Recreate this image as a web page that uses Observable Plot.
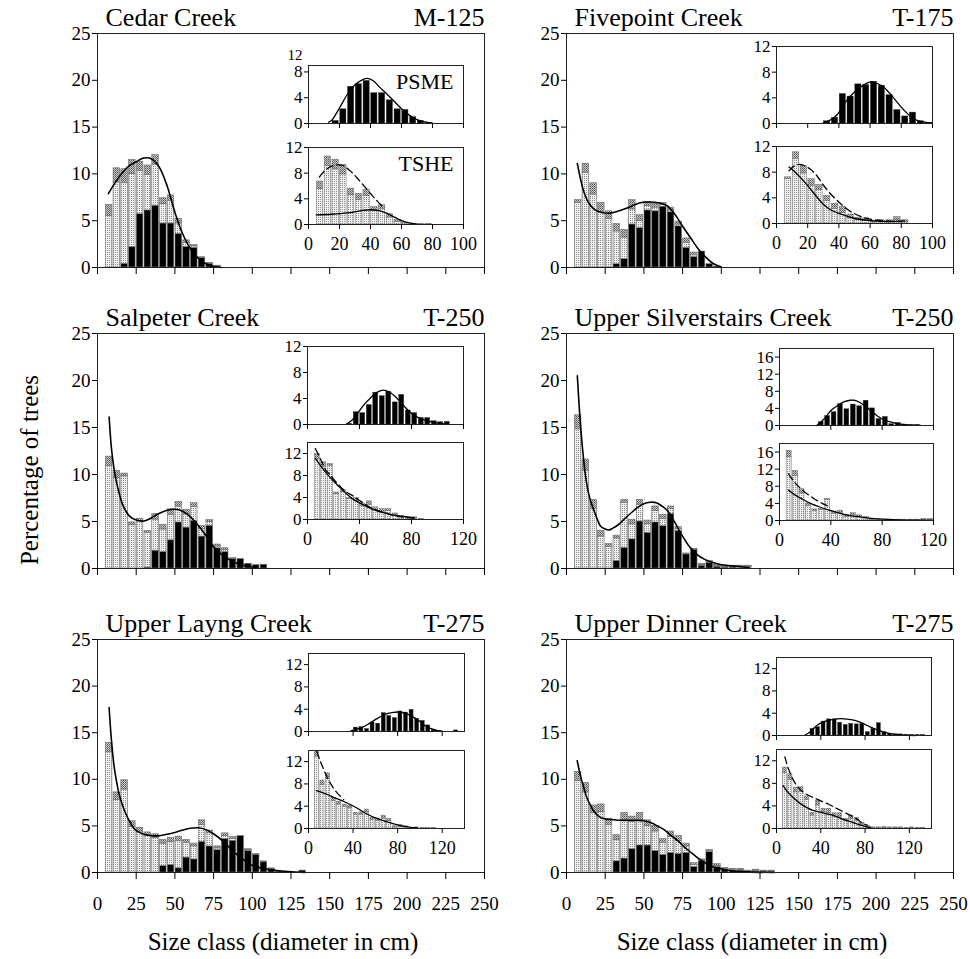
<!DOCTYPE html>
<html>
<head>
<meta charset="utf-8">
<script src="https://cdn.jsdelivr.net/npm/d3@7"></script>
<script src="https://cdn.jsdelivr.net/npm/@observablehq/plot@0.6"></script>
<style>
  html, body { margin: 0; padding: 0; background: #fff; }
  #chart { position: relative; width: 970px; height: 959px; overflow: hidden; background: #fff;
           font-family: "Liberation Serif", "Times New Roman", serif; color: #000; }
  #chart svg text { font-family: "Liberation Serif", "Times New Roman", serif !important; }
  .txt { position: absolute; white-space: nowrap; font-size: 25px; line-height: 1; }
</style>
</head>
<body>
<div id="chart">
  <svg width="0" height="0" style="position:absolute">
    <defs>
      <pattern id="lt" patternUnits="userSpaceOnUse" width="2" height="2">
        <rect width="2" height="2" fill="#f1f1f1"/>
        <rect x="0" y="0" width="1" height="1" fill="#8e8e8e"/>
      </pattern>
      <pattern id="dk" patternUnits="userSpaceOnUse" width="2" height="2">
        <rect width="2" height="2" fill="#cccccc"/>
        <rect x="0" y="0" width="1" height="1" fill="#505050"/>
        <rect x="1" y="1" width="1" height="1" fill="#777777"/>
      </pattern>
    </defs>
  </svg>
  <div class="txt" style="left:29px;top:470px;transform:translate(-50%,-50%) rotate(-90deg)">Percentage of trees</div>
  <div class="txt" style="left:283px;top:929px;transform:translateX(-50%)">Size class (diameter in cm)</div>
  <div class="txt" style="left:752px;top:929px;transform:translateX(-50%)">Size class (diameter in cm)</div>
</div>
<script>
// ---------------- DATA ----------------
// Stacked bars per 5-cm class: PSME (black), light-stippled body, dark-stippled cap.
const classWidth = 5;
const mainXTicks = [0, 25, 50, 75, 100, 125, 150, 175, 200, 225, 250];
const mainYTicks = [0, 5, 10, 15, 20, 25];

// Cedar Creek  M-125
const cedarClasses = [5,10,15,20,25,30,35,40,45,50,55,60,65,70,75];
const cedarPSME  = [0,0,0.4,2.2,5.7,6.1,6.6,4.7,4.7,3.6,2.2,2.1,1.0,0.4,0.1];
const cedarLight = [5.5,9.1,8.6,7.8,4.6,3.8,4.4,2.1,2.4,1.1,0.4,0.2,0,0,0];
const cedarDark  = [1.2,1.5,1.5,1.5,1.0,1.0,1.0,0.6,0.6,0.5,0.3,0.1,0.1,0.1,0.1];
const cedarCurve = [[7,7.9],[10,8.7],[15,9.9],[20,10.8],[25,11.3],[30,11.7],[35,11.6],[40,10.7],[45,8.7],[50,5.9],[55,3.6],[60,2.0],[65,1.0],[70,0.4],[75,0.1],[80,0]];
const cedarPsmeCurve = [[13,0.2],[15,0.5],[20,2.4],[25,4.5],[30,6.0],[35,6.8],[38,7.0],[42,6.6],[46,5.6],[50,4.7],[55,3.5],[60,2.3],[65,1.3],[70,0.6],[75,0.25],[80,0.05]];
const cedarTsheSolid = [[5,1.5],[15,1.6],[25,1.8],[35,2.2],[40,2.3],[45,2.2],[50,1.8],[55,1.2],[60,0.6],[65,0.25],[70,0.05]];
const cedarTsheDashed = [[7,7.4],[11,8.5],[16,9.2],[22,9.2],[28,8.1],[33,6.8],[38,5.4],[43,4.0],[48,2.7]];

// Fivepoint Creek  T-175
const fiveClasses = [5,10,15,20,25,30,35,40,45,50,55,60,65,70,75,80,85,90,95];
const fivePSME  = [0,0,0,0,0,0.35,0.9,4.6,4.2,6.1,6.0,6.5,5.9,4.4,2.1,1.1,1.7,0.35,0.1];
const fiveLight = [6.9,10.1,7.8,5.9,5.2,3.5,2.3,1.6,0.8,0.5,0.4,0.2,0.2,0.2,0.5,0.2,0,0,0];
const fiveDark  = [0.3,1.0,1.2,1.0,0.8,0.8,0.8,1.0,0.6,0.4,0.4,0.2,0.3,0.3,0.5,0.3,0,0,0];
const fiveCurve = [[7,11.1],[9,9.5],[11,8.2],[14,7.0],[18,6.2],[22,5.9],[27,5.8],[33,6.0],[40,6.4],[47,6.9],[53,7.0],[60,6.9],[65,6.6],[70,5.7],[75,4.4],[80,3.2],[85,2.0],[90,1.1],[95,0.4],[100,0.05]];
const fivePsmeCurve = [[30,0.1],[35,0.6],[39,1.4],[45,3.6],[50,4.9],[54,5.7],[58,6.3],[61,6.5],[65,6.2],[69,5.6],[75,4.0],[82,2.0],[86,1.1],[90,0.5],[95,0.2],[100,0.05]];
const fiveTsheSolid = [[8,8.8],[12,8.0],[16,7.0],[20,5.9],[25,4.4],[30,3.0],[35,2.1],[41,1.5],[47,1.0],[52,0.7],[62,0.4],[72,0.3],[82,0.4]];
const fiveTsheDashed = [[8,8.2],[11,8.9],[14,9.2],[18,9.0],[22,8.4],[26,7.4],[30,6.0],[34,4.8],[38,3.8],[42,2.9],[48,1.8],[55,1.0],[62,0.6],[70,0.4],[80,0.3]];

// Salpeter Creek  T-250
const salClasses = [5,10,15,20,25,30,35,40,45,50,55,60,65,70,75,80,85,90,95,100,105];
const salPSME  = [0,0,0,0,0,0.1,1.9,1.75,3.0,4.9,4.35,5.05,3.4,4.55,2.15,1.75,1.0,1.0,0.5,0.35,0.4];
const salLight = [10.9,9.6,9.8,4.6,5.0,3.7,3.3,2.4,2.7,1.7,1.4,1.5,0.8,0.4,0.2,0.2,0,0,0,0,0];
const salDark  = [1.0,0.8,0.3,0.3,0.3,0.2,0.6,0.5,0.6,0.5,0.5,0.4,0.3,0.2,0.2,0.2,0.1,0,0,0,0];
const salCurve = [[7.5,16.1],[9,12.8],[10.5,10.8],[12,9.4],[14,8.0],[16,6.9],[18,6.2],[20.5,5.6],[25,5.15],[30,5.05],[35,5.4],[39,5.8],[45,6.2],[50,6.3],[55,6.1],[60,5.5],[65,4.6],[70,3.5],[75,2.3],[80,1.5],[85,0.95],[90,0.55],[95,0.3],[103,0.1]];
const salPsmeCurve = [[30,0.05],[35,0.8],[41,2.4],[45,3.4],[48,4.0],[53,4.9],[58,5.3],[63,5.0],[69,4.0],[74,2.9],[79,1.9],[85,1.1],[90,0.7],[95,0.4],[100,0.2],[105,0.1]];
const salTsheSolid = [[6,11.1],[10,9.8],[15,8.3],[20,7.0],[25,5.8],[30,4.7],[35,3.7],[41,2.9],[46,2.3],[51,1.8],[56,1.4],[61,1.1],[66,0.8],[72,0.6],[82,0.3]];
const salTsheDashed = [[6,12.9],[10,11.0],[14,9.0],[17.5,8.1],[22,6.8],[26,5.8],[30,5.0],[35,4.3],[41,3.3],[46,2.5],[51,1.9],[56,1.5],[61,1.1],[66,0.8],[72,0.5],[82,0.25]];

// Upper Silverstairs Creek  T-250
const silClasses = [5,10,15,20,25,30,35,40,45,50,55,60,65,70,75,80,85,90,95,100,105,110,115];
const silPSME  = [0,0,0,0,0,0.8,2.2,3.1,5.0,3.8,4.9,4.5,5.8,4.0,1.5,2.0,0.3,0.6,0.2,0.1,0.1,0,0];
const silLight = [14.8,10.4,6.3,3.4,2.3,2.4,4.8,1.6,1.8,0.9,1.2,0.8,0.5,0.2,0,0,0.1,0.1,0.1,0.1,0.1,0.2,0.2];
const silDark  = [1.5,1.2,1.0,0.6,0.3,0.3,0.3,0.5,0.5,0.4,0.5,0.4,0.3,0.2,0.1,0.1,0.1,0.1,0.1,0.1,0.1,0.1,0.1];
const silCurve = [[7,20.5],[8.5,16.5],[10,13.4],[12,10.2],[13.5,8.6],[15.5,7.2],[17.7,6.2],[20,5.2],[22,4.5],[25,4.2],[27.5,4.1],[30,4.3],[33,4.6],[37,5.2],[41,5.8],[46,6.5],[50,6.9],[54,7.05],[58,7.0],[62,6.6],[65,6.2],[70,4.9],[74,3.7],[80,2.2],[85,1.4],[89,1.0],[95,0.6],[100,0.4],[112,0.2],[118,0.1]];
const silPsmeCurve = [[29,0],[33,1.0],[37,2.3],[40,3.5],[45,4.6],[50,5.5],[55,5.9],[58,5.9],[62,5.5],[66,4.7],[71,3.5],[76,2.3],[81,1.4],[87,0.8],[93,0.4],[100,0.15],[110,0.05]];
const silTsheSolid = [[7,7.1],[12,6.0],[19,4.8],[25,3.9],[32,3.1],[40,2.3],[48,1.6],[56,1.1],[64,0.8],[72,0.5],[82,0.3],[92,0.15],[100,0.1],[120,0.02]];
const silTsheDashed = [[7,10.9],[10,9.6],[14,8.2],[19,6.8],[24,5.7],[29,4.7],[34,3.9],[40,3.0]];

// Upper Layng Creek  T-275
const layClasses = [5,10,15,20,25,30,35,40,45,50,55,60,65,70,75,80,85,90,95,100,105,110,115,120,125,130];
const layPSME  = [0,0,0,0,0,0,0,0.7,0.8,0.45,1.6,1.4,3.3,2.8,2.4,3.6,3.4,3.9,2.3,1.9,1.1,0.35,0.1,0,0,0.2];
const layLight = [12.9,7.8,8.9,4.9,4.3,3.9,3.7,2.4,2.5,2.9,1.6,1.4,1.8,1.4,0.2,0.3,0.2,0,0.1,0,0,0,0,0,0,0];
const layDark  = [1.0,0.8,1.0,0.6,0.5,0.4,0.4,0.4,0.4,0.5,0.3,0.3,0.5,0.3,0.2,0.3,0.2,0,0.1,0.1,0.1,0.1,0,0,0,0];
const layCurve = [[7.5,17.7],[9,14.2],[10.8,11.3],[12.5,9.6],[14,8.4],[16,7.3],[18.3,6.3],[21,5.4],[23.7,4.7],[27,4.3],[30,4.1],[35,3.95],[40,3.95],[45,4.1],[50,4.3],[55,4.55],[60,4.75],[65,4.8],[70,4.6],[75.4,4.1],[80,3.5],[84,2.9],[88,2.2],[92.7,1.6],[97,1.05],[101,0.7],[110,0.35],[123,0.1],[134,0]];
const layPsmeCurve = [[38,0.1],[45,0.5],[50,0.9],[55,1.5],[61.5,2.3],[66,2.8],[70.5,3.2],[75,3.4],[80,3.5],[85,3.4],[89,3.1],[95,2.5],[100.6,1.7],[105,1.0],[110,0.5],[115,0.2],[120,0.05]];
const layTsheSolid = [[7,6.8],[12,6.5],[17,6.1],[22.5,5.6],[30,5.0],[37.5,4.3],[45,3.5],[52.5,2.6],[60,1.9],[67.5,1.4],[75,0.9],[82.6,0.5],[90,0.25],[97.6,0.1]];
const layTsheDashed = [[7.5,13.8],[10,12.4],[13,10.9],[16.5,9.3],[20,8.0],[24,6.8],[28,5.9],[31.5,5.2]];

// Upper Dinner Creek  T-275
const dinClasses = [5,10,15,20,25,30,35,40,45,50,55,60,65,70,75,80,85,90,95,100,105,110,115,120,125,130];
const dinPSME  = [0,0,0,0,0,1.2,1.5,2.5,2.9,2.9,2.3,1.9,2.1,2.0,2.1,0.6,1.2,2.2,0.6,0.3,0.2,0.2,0.1,0.1,0.1,0.1];
const dinLight = [9.8,8.6,6.4,6.5,5.1,2.3,4.1,2.9,2.7,2.1,2.1,1.3,1.7,1.4,0.7,0.2,0.1,0.1,0.1,0.1,0.1,0.1,0,0.1,0,0];
const dinDark  = [1.0,1.0,0.8,0.8,0.6,0.5,0.8,0.6,0.8,0.6,0.6,0.4,0.6,0.5,0.3,0.2,0.1,0.1,0.2,0.1,0.1,0.1,0.1,0.1,0.1,0.1];
const dinCurve = [[6.9,12.0],[9,10.4],[11.2,9.1],[13,8.1],[15.5,7.2],[18,6.5],[22,5.9],[25,5.75],[28.4,5.7],[35,5.6],[39,5.6],[45,5.6],[50,5.55],[55,5.3],[58.6,5.0],[63,4.6],[67,4.05],[72,3.4],[76,2.75],[80,2.2],[84.5,1.6],[89,1.1],[93,0.7],[98,0.45],[104,0.25],[117,0.07],[134,0]];
const dinPsmeCurve = [[25,0],[30,0.6],[36.5,1.8],[42,2.4],[48.6,2.8],[55,3.0],[61,3.0],[67,2.85],[73,2.6],[79,2.1],[85,1.5],[91,1.0],[97,0.6],[103,0.35],[109,0.2],[117,0.07],[125,0]];
const dinTsheSolid = [[6,7.6],[10,6.5],[15,5.5],[21,4.5],[27,3.75],[33,3.2],[39.5,2.9],[45,2.6],[51.7,2.3],[58,1.8],[64,1.4],[70,1.0],[76,0.6],[81,0.35],[85,0.2]];
const dinTsheDashed = [[7.6,12.7],[10,11.0],[12,10.0],[16,8.3],[21,7.0],[26,6.2],[33,5.5],[40,4.9],[47,4.3],[53,3.7],[60,3.0],[68,2.2],[74,1.5],[78,0.9],[82,0.6]];

// Inset axes
const inset100XTicks = [0, 20, 40, 60, 80, 100];
const inset120XTicks = [0, 40, 80, 120];
const yTicks12 = [0, 4, 8, 12];
const yLabels12 = ["0", "4", "8", "12"];
const yTicksCedarTop = [0, 4, 8];
const yLabelsCedarTop = ["0", "4", "8"];
const cedarTopExtraLabel = "12";
const yTicks16 = [0, 4, 8, 12, 16];
const yLabels16 = ["0", "4", "8", "12", "16"];

const speciesOrder = ["PSME", "light", "dark"];
const speciesFill = ["#000000", "url(#lt)", "url(#dk)"];

// ---------------- LAYOUT ----------------
const L = {
  colLeft: [97, 566], colRight: [484, 953],
  rowTop: [33, 333, 639], rowZero: [267, 568, 872]
};
const FONT = '"Liberation Serif", "Times New Roman", serif';

const panels = [
  {name: "Cedar Creek", code: "M-125", col: 0, row: 0,
   classes: cedarClasses, psme: cedarPSME, light: cedarLight, dark: cedarDark,
   curve: cedarCurve, psmeCurve: cedarPsmeCurve, solid: cedarTsheSolid, dashed: cedarTsheDashed,
   xDomain: [0, 100], xTicks: inset100XTicks,
   top: {box: [308, 463, 65, 123], yDomain: [0, 9], yTicks: yTicksCedarTop, yLabels: yLabelsCedarTop, label: "PSME", topLabel: cedarTopExtraLabel},
   bot: {box: [308, 463, 147, 224], yDomain: [0, 12], yTicks: yTicks12, yLabels: yLabels12, label: "TSHE"}},
  {name: "Fivepoint Creek", code: "T-175", col: 1, row: 0,
   classes: fiveClasses, psme: fivePSME, light: fiveLight, dark: fiveDark,
   curve: fiveCurve, psmeCurve: fivePsmeCurve, solid: fiveTsheSolid, dashed: fiveTsheDashed,
   xDomain: [0, 100], xTicks: inset100XTicks,
   top: {box: [776, 932, 46, 123], yDomain: [0, 12], yTicks: yTicks12, yLabels: yLabels12},
   bot: {box: [776, 932, 146, 223], yDomain: [0, 12], yTicks: yTicks12, yLabels: yLabels12}},
  {name: "Salpeter Creek", code: "T-250", col: 0, row: 1,
   classes: salClasses, psme: salPSME, light: salLight, dark: salDark,
   curve: salCurve, psmeCurve: salPsmeCurve, solid: salTsheSolid, dashed: salTsheDashed,
   xDomain: [0, 120], xTicks: inset120XTicks,
   top: {box: [307, 463, 346, 424], yDomain: [0, 12], yTicks: yTicks12, yLabels: yLabels12},
   bot: {box: [307, 463, 442, 519], yDomain: [0, 14], yTicks: yTicks12, yLabels: yLabels12}},
  {name: "Upper Silverstairs Creek", code: "T-250", col: 1, row: 1,
   classes: silClasses, psme: silPSME, light: silLight, dark: silDark,
   curve: silCurve, psmeCurve: silPsmeCurve, solid: silTsheSolid, dashed: silTsheDashed,
   xDomain: [0, 120], xTicks: inset120XTicks,
   top: {box: [779, 933, 348, 425], yDomain: [0, 18], yTicks: yTicks16, yLabels: yLabels16},
   bot: {box: [779, 933, 443, 520], yDomain: [0, 18], yTicks: yTicks16, yLabels: yLabels16}},
  {name: "Upper Layng Creek", code: "T-275", col: 0, row: 2,
   classes: layClasses, psme: layPSME, light: layLight, dark: layDark,
   curve: layCurve, psmeCurve: layPsmeCurve, solid: layTsheSolid, dashed: layTsheDashed,
   xDomain: [0, 140], xTicks: inset120XTicks,
   top: {box: [308, 464, 653, 731], yDomain: [0, 14], yTicks: yTicks12, yLabels: yLabels12},
   bot: {box: [308, 464, 750, 828], yDomain: [0, 14], yTicks: yTicks12, yLabels: yLabels12}},
  {name: "Upper Dinner Creek", code: "T-275", col: 1, row: 2,
   classes: dinClasses, psme: dinPSME, light: dinLight, dark: dinDark,
   curve: dinCurve, psmeCurve: dinPsmeCurve, solid: dinTsheSolid, dashed: dinTsheDashed,
   xDomain: [0, 140], xTicks: inset120XTicks,
   top: {box: [776, 931, 657, 735], yDomain: [0, 14], yTicks: yTicks12, yLabels: yLabels12},
   bot: {box: [776, 931, 749, 828], yDomain: [0, 14], yTicks: yTicks12, yLabels: yLabels12}}
];

function stackRows(p, species) {
  const rows = [];
  p.classes.forEach((lo, i) => {
    for (const sp of species) {
      const v = sp === "PSME" ? p.psme[i] : sp === "light" ? p.light[i] : p.dark[i];
      rows.push({lo, hi: lo + classWidth, sp, v});
    }
  });
  return rows;
}

const chart = document.getElementById("chart");

function place(svg, left, top) {
  svg.style.position = "absolute";
  svg.style.left = left + "px";
  svg.style.top = top + "px";
  svg.style.background = "transparent";
  svg.style.overflow = "visible";
  svg.style.maxWidth = "none";
  svg.style.fontFamily = FONT;
  svg.setAttribute("font-family", FONT);
  chart.appendChild(svg);
}

function drawMain(p) {
  const showX = p.row === 2;
  const ml = 60, mr = 12, mt = 33, mb = showX ? 48 : 14;
  const x0 = L.colLeft[p.col], x1 = L.colRight[p.col];
  const yT = L.rowTop[p.row], yB = L.rowZero[p.row];
  const svg = Plot.plot({
    width: x1 - x0 + ml + mr,
    height: yB - yT + mt + mb,
    marginLeft: ml, marginRight: mr, marginTop: mt, marginBottom: mb,
    x: {domain: [0, 250]},
    y: {domain: [0, 25]},
    color: {type: "ordinal", domain: speciesOrder, range: speciesFill},
    style: {fontFamily: FONT, fontSize: "19px", color: "black", background: "transparent"},
    marks: [
      Plot.rectY(stackRows(p, speciesOrder), Plot.stackY({
        x1: "lo", x2: "hi", y: "v", fill: "sp",
        stroke: "#6a6a6a", strokeWidth: 0.6, insetLeft: 0.6, insetRight: 0.6
      })),
      Plot.line(p.curve, {curve: "catmull-rom", stroke: "black", strokeWidth: 1.6}),
      Plot.frame({stroke: "#222", strokeWidth: 1}),
      Plot.axisY({ticks: mainYTicks, tickSize: 5, tickPadding: 2, fontSize: 19, fontFamily: FONT, label: null}),
      Plot.axisX({ticks: mainXTicks, tickSize: 7, tickPadding: 17, fontSize: 19, fontFamily: FONT, label: null,
                  tickFormat: showX ? (d => String(d)) : (() => "")}),
      Plot.text([p.name], {frameAnchor: "top-left", dx: 8, dy: -8, lineAnchor: "bottom", fontSize: 26, fontFamily: FONT}),
      Plot.text([p.code], {frameAnchor: "top-right", dy: -8, lineAnchor: "bottom", fontSize: 26, fontFamily: FONT})
    ]
  });
  place(svg, x0 - ml, yT - mt);
}

function drawInset(p, cfg, which) {
  const showX = which === "bot";
  const [bx0, bx1, by0, by1] = cfg.box;
  const ml = 34, mr = 4, mt = 14, mb = showX ? 34 : 10;
  const marks = [Plot.frame({fill: "white", stroke: null})];
  if (which === "top") {
    marks.push(Plot.rectY(stackRows(p, ["PSME"]), {x1: "lo", x2: "hi", y: "v", fill: "sp",
      stroke: "#333", strokeWidth: 0.4, insetLeft: 0.8, insetRight: 0.8}));
    marks.push(Plot.line(p.psmeCurve, {curve: "catmull-rom", stroke: "black", strokeWidth: 1.3}));
  } else {
    marks.push(Plot.rectY(stackRows(p, ["light", "dark"]), Plot.stackY({x1: "lo", x2: "hi", y: "v", fill: "sp",
      stroke: "#6a6a6a", strokeWidth: 0.5, insetLeft: 0.7, insetRight: 0.7})));
    marks.push(Plot.line(p.solid, {curve: "catmull-rom", stroke: "black", strokeWidth: 1.3}));
    marks.push(Plot.line(p.dashed, {curve: "catmull-rom", stroke: "black", strokeWidth: 1.3, strokeDasharray: "7,4"}));
  }
  if (cfg.label) {
    marks.push(Plot.text([cfg.label], {frameAnchor: "top-right", dx: -10, dy: 8, lineAnchor: "top", fontSize: 22, fontFamily: FONT}));
  }
  marks.push(Plot.frame({stroke: "#222", strokeWidth: 1}));
  marks.push(Plot.axisY({ticks: cfg.yTicks, tickSize: 4, tickPadding: 2, fontSize: 17, fontFamily: FONT, label: null,
    tickFormat: d => cfg.yLabels[cfg.yTicks.indexOf(d)]}));
  if (cfg.topLabel) {
    // the figure prints "12" at the top of this shortened inset axis
    marks.push(Plot.text([cfg.topLabel], {frameAnchor: "top-left", dx: -6, dy: -10, textAnchor: "end",
      lineAnchor: "middle", fontSize: 15, fontFamily: FONT}));
  }
  marks.push(Plot.axisX({ticks: p.xTicks, tickSize: 5, tickPadding: 8, fontSize: 18, fontFamily: FONT, label: null,
    tickFormat: showX ? (d => String(d)) : (() => "")}));
  const svg = Plot.plot({
    width: bx1 - bx0 + ml + mr,
    height: by1 - by0 + mt + mb,
    marginLeft: ml, marginRight: mr, marginTop: mt, marginBottom: mb,
    x: {domain: p.xDomain},
    y: {domain: cfg.yDomain},
    color: {type: "ordinal", domain: speciesOrder, range: speciesFill},
    style: {fontFamily: FONT, fontSize: "17px", color: "black", background: "transparent"},
    marks
  });
  place(svg, bx0 - ml, by0 - mt);
}

for (const p of panels) drawMain(p);
for (const p of panels) { drawInset(p, p.top, "top"); drawInset(p, p.bot, "bot"); }
</script>
</body>
</html>
